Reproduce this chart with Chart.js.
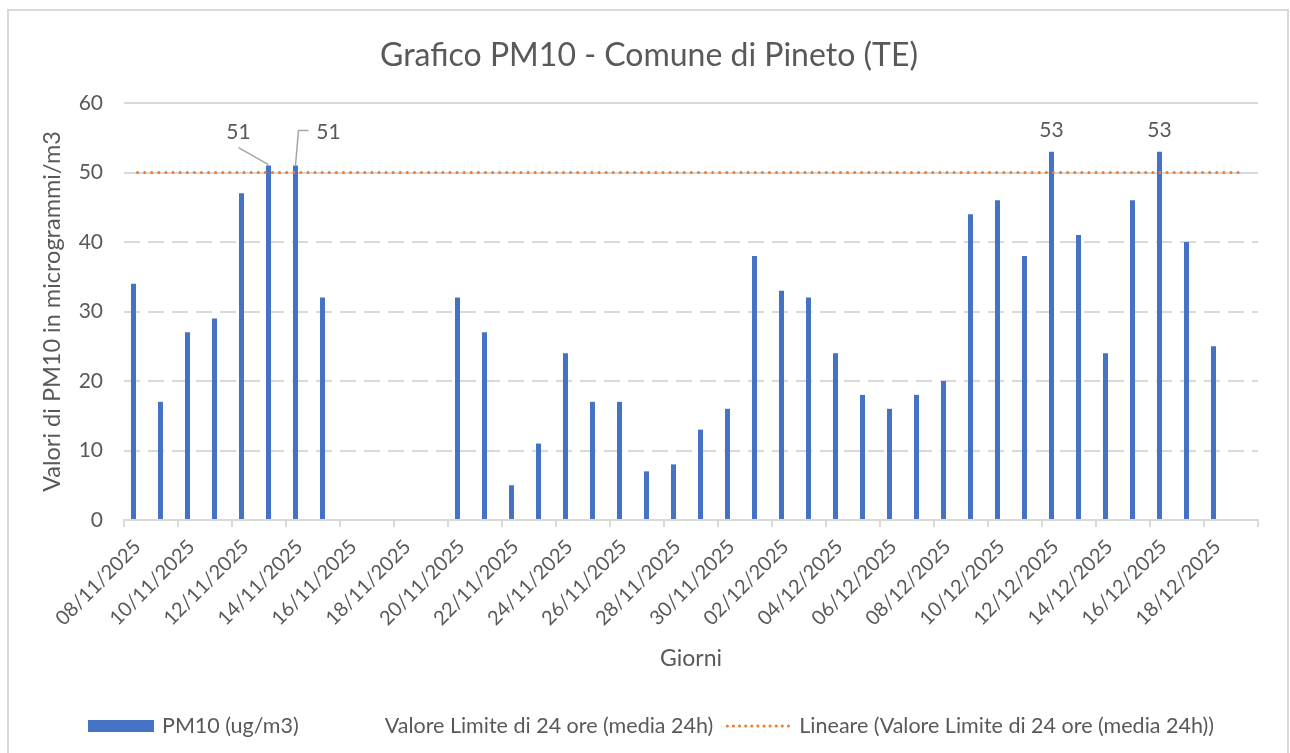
<!DOCTYPE html>
<html>
<head>
<meta charset="utf-8">
<title>Grafico PM10 - Comune di Pineto (TE)</title>
<script src="https://cdn.jsdelivr.net/npm/chart.js@4.4.1/dist/chart.umd.min.js"></script>
<style>
  body { margin: 0; background: #fff; }
  #wrap { position: relative; width: 1290px; height: 753px; overflow: hidden; background: #fff; }
  #frame { position: absolute; left: 7px; top: 9px; width: 1282px; height: 800px; border: 2px solid #d9d9d9; box-sizing: border-box; }
  canvas { position: absolute; left: 0; top: 0; }
</style>
</head>
<body>
<div id="wrap">
  <div id="frame"></div>
  <canvas id="pm10-canvas" width="1290" height="753"></canvas>
</div>
<script>
'use strict';

// giorni (categorie), l'ultimo giorno e' vuoto
var days = [
  '08/11/2025', '09/11/2025', '10/11/2025', '11/11/2025', '12/11/2025', '13/11/2025', '14/11/2025',
  '15/11/2025', '16/11/2025', '17/11/2025', '18/11/2025', '19/11/2025', '20/11/2025', '21/11/2025',
  '22/11/2025', '23/11/2025', '24/11/2025', '25/11/2025', '26/11/2025', '27/11/2025', '28/11/2025',
  '29/11/2025', '30/11/2025', '01/12/2025', '02/12/2025', '03/12/2025', '04/12/2025', '05/12/2025',
  '06/12/2025', '07/12/2025', '08/12/2025', '09/12/2025', '10/12/2025', '11/12/2025', '12/12/2025',
  '13/12/2025', '14/12/2025', '15/12/2025', '16/12/2025', '17/12/2025', '18/12/2025', '19/12/2025'
];

var pm10Values = [
  34, 17, 27, 29, 47, 51, 51,
  32, null, null, null, null, 32, 27,
  5, 11, 24, 17, 17, 7, 8,
  13, 16, 38, 33, 32, 24, 18,
  16, 18, 20, 44, 46, 38, 53,
  41, 24, 46, 53, 40, 25, null
];

var limitValues = [
  50, 50, 50, 50, 50, 50, 50,
  50, 50, 50, 50, 50, 50, 50,
  50, 50, 50, 50, 50, 50, 50,
  50, 50, 50, 50, 50, 50, 50,
  50, 50, 50, 50, 50, 50, 50,
  50, 50, 50, 50, 50, 50, 50
];

var yMin = 0;
var yMax = 60;
var yStep = 10;

// etichette dati mostrate sul grafico
var labelledDays = ['13/11/2025', '14/11/2025', '12/12/2025', '16/12/2025'];

var seriesNames = [
  'PM10 (ug/m3)',
  'Valore Limite di 24 ore (media 24h)',
  'Lineare (Valore Limite di 24 ore (media 24h))'
];

var textColor = '#595959';
var gridColor = '#d9d9d9';
var blue = '#4472C4';
var orange = '#ED7D31';

Chart.defaults.font.family = 'Lato';
Chart.defaults.color = textColor;

var dataLabels = {
  id: 'dataLabels',
  afterDatasetsDraw: function(chart) {
    var ctx = chart.ctx;
    var meta = chart.getDatasetMeta(1); // barre PM10
    ctx.save();
    ctx.font = '21px Lato';
    ctx.fillStyle = textColor;
    ctx.strokeStyle = '#a6a6a6';
    ctx.lineWidth = 1.5;
    ctx.textAlign = 'center';
    ctx.textBaseline = 'middle';
    labelledDays.forEach(function(day, n) {
      var i = days.indexOf(day);
      var bar = meta.data[i];
      var text = String(pm10Values[i]);
      if (n === 0) {
        ctx.beginPath();
        ctx.moveTo(bar.x - 30, bar.y - 18);
        ctx.lineTo(bar.x, bar.y - 1);
        ctx.stroke();
        ctx.fillText(text, bar.x - 30, bar.y - 33);
      } else if (n === 1) {
        ctx.beginPath();
        ctx.moveTo(bar.x + 13, bar.y - 35);
        ctx.lineTo(bar.x + 3, bar.y - 35);
        ctx.lineTo(bar.x, bar.y);
        ctx.stroke();
        ctx.fillText(text, bar.x + 33, bar.y - 33);
      } else {
        ctx.fillText(text, bar.x, bar.y - 21);
      }
    });
    ctx.restore();
  }
};

var bottomLegend = {
  id: 'bottomLegend',
  afterDraw: function(chart) {
    var ctx = chart.ctx;
    var y = 726;
    var mark = 66;
    var gap = 8;
    var between = 12;
    ctx.save();
    ctx.font = '21.5px Lato';
    ctx.textBaseline = 'middle';
    ctx.textAlign = 'left';
    var widths = seriesNames.map(function(s) { return ctx.measureText(s).width; });
    var total = 3 * (mark + gap) + widths[0] + widths[1] + widths[2] + 2 * between;
    var x = 651 - total / 2;

    // PM10
    ctx.fillStyle = blue;
    ctx.fillRect(x, y - 6, mark, 12);
    x += mark + gap;
    ctx.fillStyle = textColor;
    ctx.fillText(seriesNames[0], x, y);
    x += widths[0] + between;

    // valore limite: nessun simbolo visibile
    x += mark + gap;
    ctx.fillText(seriesNames[1], x, y);
    x += widths[1] + between;

    // lineare: punti arancioni
    ctx.strokeStyle = orange;
    ctx.lineWidth = 3;
    ctx.lineCap = 'round';
    ctx.setLineDash([0.1, 6]);
    ctx.beginPath();
    ctx.moveTo(x + 2, y);
    ctx.lineTo(x + mark, y);
    ctx.stroke();
    ctx.setLineDash([]);
    x += mark + gap;
    ctx.fillText(seriesNames[2], x, y);
    ctx.restore();
  }
};

var ctxPm10 = document.getElementById('pm10-canvas').getContext('2d');

var pm10Chart = new Chart(ctxPm10, {
  data: {
    labels: days,
    datasets: [
      {
        type: 'line',
        label: seriesNames[2],
        data: limitValues,
        borderColor: orange,
        borderWidth: 3,
        borderDash: [0.1, 7],
        borderCapStyle: 'round',
        pointRadius: 0,
        fill: false,
        order: 0
      },
      {
        type: 'bar',
        label: seriesNames[0],
        data: pm10Values,
        backgroundColor: blue,
        categoryPercentage: 0.593,
        barPercentage: 0.625,
        order: 1
      },
      {
        type: 'bar',
        label: seriesNames[1],
        data: limitValues,
        backgroundColor: 'rgba(0,0,0,0)',
        categoryPercentage: 0.593,
        barPercentage: 0.625,
        order: 1
      }
    ]
  },
  options: {
    responsive: false,
    animation: false,
    devicePixelRatio: 1,
    layout: { padding: { left: 8, right: 0, top: 0, bottom: 73 } },
    plugins: {
      legend: { display: false },
      tooltip: { enabled: false },
      title: {
        display: true,
        text: 'Grafico PM10 - Comune di Pineto (TE)',
        color: textColor,
        font: { size: 32, weight: 'normal' },
        padding: { top: 36, bottom: 28.6 }
      }
    },
    scales: {
      x: {
        offset: true,
        grid: {
          offset: true,
          drawOnChartArea: false,
          drawTicks: true,
          tickLength: 7,
          lineWidth: 2,
          color: function(c) { return (c.index !== undefined && c.index % 2 === 1) ? 'rgba(0,0,0,0)' : gridColor; },
          tickColor: function(c) { return (c.index !== undefined && c.index % 2 === 1) ? 'rgba(0,0,0,0)' : gridColor; }
        },
        border: { display: true, color: gridColor, width: 2 },
        ticks: {
          autoSkip: false,
          minRotation: 45,
          maxRotation: 45,
          padding: 8,
          color: textColor,
          font: { size: 20 },
          callback: function(value, index) {
            return index % 2 === 0 ? this.getLabelForValue(value) : '';
          }
        },
        title: {
          display: true,
          text: 'Giorni',
          color: textColor,
          font: { size: 23 },
          padding: { top: 0, bottom: 8 }
        },
        afterFit: function(scale) { scale.height = 160; }
      },
      y: {
        min: yMin,
        max: yMax,
        ticks: { stepSize: yStep, padding: 21, color: textColor, font: { size: 21 } },
        grid: {
          drawTicks: false,
          lineWidth: 2,
          color: gridColor
        },
        border: {
          display: false,
          dash: function(c) {
            var v = c.tick ? c.tick.value : 0;
            return (v > 0 && v < 50) ? [16, 8] : [];
          }
        },
        title: {
          display: true,
          text: 'Valori di PM10 in microgrammi/m3',
          color: textColor,
          font: { size: 23.5 },
          padding: { top: 30, bottom: 0 }
        },
        afterFit: function(scale) { scale.width = 116; }
      },
      // asse vuoto a destra: solo spazio, nessun segno
      yRight: {
        position: 'right',
        min: yMin,
        max: yMax,
        ticks: { display: false },
        grid: { display: false },
        border: { display: false },
        afterFit: function(scale) { scale.width = 32; }
      }
    }
  },
  plugins: [dataLabels, bottomLegend]
});
</script>
</body>
</html>
